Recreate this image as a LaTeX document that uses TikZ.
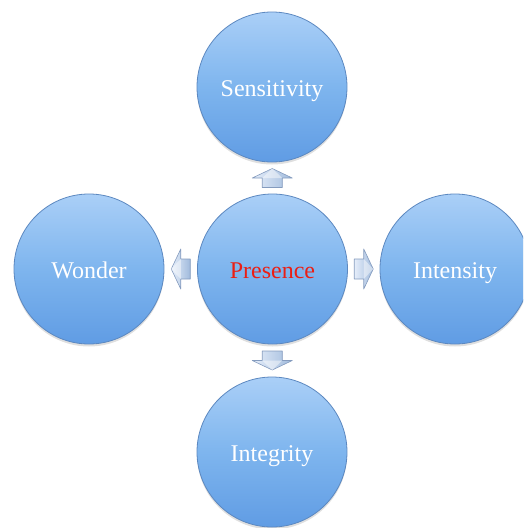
\documentclass[tikz,border=0pt]{standalone}
\usepackage{fontspec}
\setmainfont{Liberation Serif}
\usetikzlibrary{calc,shadows}
\definecolor{ctop}{RGB}{170,207,247}
\definecolor{cbot}{RGB}{96,156,228}
\definecolor{cmid}{RGB}{126,181,238}
\definecolor{cedge}{RGB}{92,136,192}
\definecolor{atop}{RGB}{230,238,250}
\definecolor{abot}{RGB}{160,186,220}
\definecolor{aedge}{RGB}{132,155,190}
\definecolor{pred}{RGB}{235,30,20}
\tikzset{
  bubble/.style={circle, minimum size=150pt, inner sep=0pt,
    top color=ctop, bottom color=cbot, middle color=cmid,
    draw=cedge, line width=0.8pt,
    drop shadow={opacity=0.25, shadow xshift=0pt, shadow yshift=-2.5pt},
    text=white, font=\fontsize{24}{28}\selectfont,
    text height=20pt, text depth=2pt},
  blockarrow/.style={left color=atop, right color=abot, draw=aedge, line width=0.6pt, line join=round}
}
\begin{document}
\begin{tikzpicture}[x=1pt,y=1pt]
\useasboundingbox (0,0) rectangle (523,-528);
\clip (0,0) rectangle (523,-528);
\node[bubble] (S) at (272,-87) {Sensitivity};
\node[bubble] (P) at (272.5,-269) {\textcolor{pred}{Presence}};
\node[bubble] (W) at (89,-269) {Wonder};
\node[bubble] (I) at (455,-269) {Intensity};
\node[bubble] (G) at (272,-452) {Integrity};
\coordinate (mT) at ($(P.north)!0.5!(S.south)$);
\coordinate (mB) at ($(P.south)!0.5!(G.north)$);
\coordinate (mL) at ($(P.west)!0.5!(W.east)$);
\coordinate (mR) at ($(P.east)!0.5!(I.west)$);
\foreach \m/\a in {mT/90, mB/-90, mL/180, mR/0}{
  \begin{scope}[shift={(\m)}, rotate=\a]
    \path[blockarrow] (-9.5,-10) -- (0,-10) -- (0,-20) -- (9.5,0) -- (0,20) -- (0,10) -- (-9.5,10) -- cycle;
    \fill[white, opacity=0.45] (0,-10) -- (9.5,0) -- (0,10) -- cycle;
  \end{scope}
}
\end{tikzpicture}
\end{document}
